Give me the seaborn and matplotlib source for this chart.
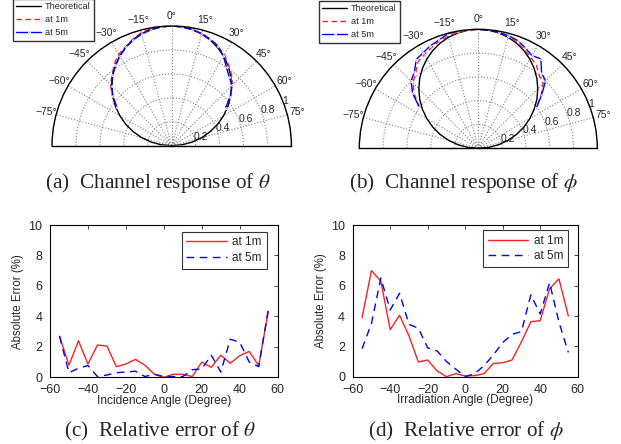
import matplotlib
matplotlib.use("Agg")
import matplotlib.pyplot as plt
import seaborn as sns
import numpy as np

# measurement angles (degrees)
angles = [-55, -50, -45, -40, -35, -30, -25, -20, -15, -10, -5, 0,
          5, 10, 15, 20, 25, 30, 35, 40, 45, 50, 55]

# theoretical response, sampled every 5 degrees from -90 to 90
theory_deg = list(range(-90, 95, 5))
theory_r = [0.0, 0.087, 0.174, 0.259, 0.342, 0.423, 0.5, 0.574, 0.643, 0.707,
            0.766, 0.819, 0.866, 0.906, 0.940, 0.966, 0.985, 0.996, 1.0,
            0.996, 0.985, 0.966, 0.940, 0.906, 0.866, 0.819, 0.766, 0.707,
            0.643, 0.574, 0.5, 0.423, 0.342, 0.259, 0.174, 0.087, 0.0]

# (a) channel response vs incidence angle
theta_1m = [0.558, 0.648, 0.724, 0.773, 0.836, 0.884, 0.912, 0.948, 0.978, 0.993,
            0.998, 1.0, 0.998, 0.987, 0.966, 0.949, 0.912, 0.879, 0.827, 0.777,
            0.719, 0.638, 0.549]
theta_5m = [0.558, 0.641, 0.711, 0.772, 0.819, 0.867, 0.909, 0.943, 0.970, 0.985,
            0.998, 1.0, 0.996, 0.985, 0.971, 0.945, 0.919, 0.863, 0.799, 0.748,
            0.714, 0.638, 0.549]

# (b) channel response vs irradiation angle
phi_1m = [0.603, 0.70, 0.778, 0.82, 0.885, 0.909, 0.933, 0.959, 0.976, 0.99,
          0.996, 1.0, 0.996, 0.985, 0.976, 0.949, 0.915, 0.883, 0.852, 0.797,
          0.771, 0.688, 0.597]
phi_5m = [0.608, 0.72, 0.80, 0.835, 0.91, 0.927, 0.951, 0.968, 0.995, 1.0,
          1.0, 1.0, 0.996, 0.99, 0.98, 0.964, 0.933, 0.90, 0.917, 0.827,
          0.80, 0.694, 0.597]

# (c) relative error of theta (%)
err_theta_1m = [2.7, 0.8, 2.4, 0.87, 2.12, 2.05, 0.7, 0.87, 1.18, 0.8, 0.2, 0.0,
                0.2, 0.2, 0.05, 1.0, 0.65, 1.45, 0.92, 1.42, 1.7, 0.77, 4.3]
err_theta_5m = [2.7, 0.3, 0.6, 0.77, 0.05, 0.15, 0.3, 0.35, 0.4, 0.05, 0.2, 0.05,
                0.05, 0.05, 0.5, 0.55, 1.45, 0.35, 2.5, 2.3, 1.0, 0.7, 4.4]

# (d) relative error of phi (%)
err_phi_1m = [3.9, 7.0, 6.3, 3.1, 4.05, 2.7, 0.97, 1.1, 0.38, 0.0, 0.2, 0.05,
              0.07, 0.2, 0.87, 0.92, 1.1, 2.3, 3.62, 3.7, 5.8, 6.45, 4.0]
err_phi_5m = [1.85, 3.5, 6.5, 4.4, 5.5, 3.45, 3.2, 1.9, 1.7, 1.0, 0.5, 0.0,
              0.2, 0.72, 1.43, 2.25, 2.8, 2.97, 5.4, 4.13, 6.2, 3.6, 1.6]

r_ticks = [0.2, 0.4, 0.6, 0.8, 1.0]
r_tick_labels = ['0.2', '0.4', '0.6', '0.8', '1']

sns.set_style("white")
plt.rcParams['font.family'] = ['Liberation Sans', 'DejaVu Sans']
plt.rcParams['mathtext.fontset'] = 'stix'

W, H = 621, 444
fig = plt.figure(figsize=(6.21, 4.44), dpi=100)


def fx(px):
    return px / W


def fy(py):
    return 1 - py / H


def polar_panel(cx, cy, R, r1, r5, legend_xy):
    # a half wedge is fitted into a square box, so the box is 2R x 2R
    rect = [fx(cx - R), fy(cy - R / 2 + R), fx(2 * R), 2 * R / H]
    ax = fig.add_axes(rect, projection='polar')
    ax.set_theta_zero_location('N')
    ax.set_theta_direction(-1)
    ax.set_thetamin(-90)
    ax.set_thetamax(90)
    sns.lineplot(x=np.deg2rad(theory_deg), y=theory_r, ax=ax, color='black',
                 lw=1.0, sort=False, estimator=None, label='Theoretical')
    sns.lineplot(x=np.deg2rad(angles), y=r1, ax=ax, color='#ff2020', lw=1.0,
                 linestyle=(0, (4, 2.5)), sort=False, estimator=None, label='at 1m')
    sns.lineplot(x=np.deg2rad(angles), y=r5, ax=ax, color='#0000ff', lw=1.0,
                 marker='.', markersize=2.5, sort=False, estimator=None, label='at 5m')
    ax.set_ylim(0, 1)
    ax.set_rticks(r_ticks)
    ax.set_yticklabels([])
    for r, lab in zip(r_ticks, r_tick_labels):
        ax.text(np.deg2rad(68), r, lab, fontsize=7.5, ha='left', va='center')
    tg = list(range(-75, 90, 15))
    ax.set_thetagrids(tg, [f"\u2212{-a}\u00b0" if a < 0 else f"{a}\u00b0" for a in tg])
    ax.tick_params(axis='x', labelsize=7.5, pad=-3)
    ax.grid(True, color='#808080', linestyle=':', linewidth=0.8)
    for s in ax.spines.values():
        s.set_color('black')
        s.set_linewidth(1.0)
    ax.set_xlabel('')
    ax.set_ylabel('')
    leg = ax.legend(loc='upper left', bbox_to_anchor=legend_xy,
                    bbox_transform=fig.transFigure, fontsize=6.6, frameon=True,
                    fancybox=False, handlelength=2.7, borderpad=0.35,
                    labelspacing=0.45, handletextpad=0.4, borderaxespad=0)
    leg.get_frame().set_edgecolor('black')
    leg.get_frame().set_linewidth(1.0)
    return ax


def error_panel(rect, e1, e5, xlabel, legend_xy):
    ax = fig.add_axes(rect)
    sns.lineplot(x=angles, y=e1, ax=ax, color='#ff2020', lw=1.0,
                 sort=False, estimator=None, label='at 1m')
    sns.lineplot(x=angles, y=e5, ax=ax, color='#0000ff', lw=1.0,
                 linestyle=(0, (5.5, 4)), sort=False, estimator=None, label='at 5m')
    ax.set_xlim(-60, 60)
    ax.set_ylim(0, 10)
    ax.set_xticks(range(-60, 61, 20))
    ax.set_xticklabels([f"\u2212{-v}" if v < 0 else str(v) for v in range(-60, 61, 20)])
    ax.set_yticks(range(0, 11, 2))
    ax.tick_params(direction='in', top=True, right=True, labelsize=9,
                   length=3, width=0.6)
    ax.tick_params(axis='x', pad=5)
    ax.tick_params(axis='y', pad=5.5)
    for s in ax.spines.values():
        s.set_color('black')
        s.set_linewidth(0.8)
    ax.set_xlabel(xlabel, fontsize=8.6, labelpad=-1)
    ax.set_ylabel('Absolute Error (%)', fontsize=8.3, labelpad=3)
    leg = ax.legend(loc='upper right', bbox_to_anchor=legend_xy,
                    bbox_transform=fig.transFigure, fontsize=8.5, frameon=True,
                    fancybox=False, handlelength=3.4, borderpad=0.4,
                    labelspacing=0.3, handletextpad=0.5, borderaxespad=0)
    leg.get_frame().set_edgecolor('black')
    leg.get_frame().set_linewidth(0.8)
    return ax


polar_panel(171.7, 145.7, 119.7, theta_1m, theta_5m, (fx(13), fy(-1)))
polar_panel(478.3, 148.3, 119.0, phi_1m, phi_5m, (fx(319), fy(1)))

error_panel([fx(50), fy(377.3), fx(227.7), 152.3 / H], err_theta_1m, err_theta_5m,
            'Incidence Angle (Degree)', (fx(266.7), fy(231.7)))
error_panel([fx(352.7), fy(376.7), fx(225), 151.7 / H], err_phi_1m, err_phi_5m,
            'Irradiation Angle (Degree)', (fx(568.3), fy(230)))

cap = dict(ha='center', va='baseline', fontsize=15.3,
           family=['Liberation Serif', 'DejaVu Serif'])
fig.text(fx(157.5), fy(188), r'(a)  Channel response of $\theta$', **cap)
fig.text(fx(463.3), fy(188), r'(b)  Channel response of $\phi$', **cap)
fig.text(fx(160), fy(436), r'(c)  Relative error of $\theta$', **cap)
fig.text(fx(466), fy(436), r'(d)  Relative error of $\phi$', **cap)

fig.savefig('out.png', dpi=100)
